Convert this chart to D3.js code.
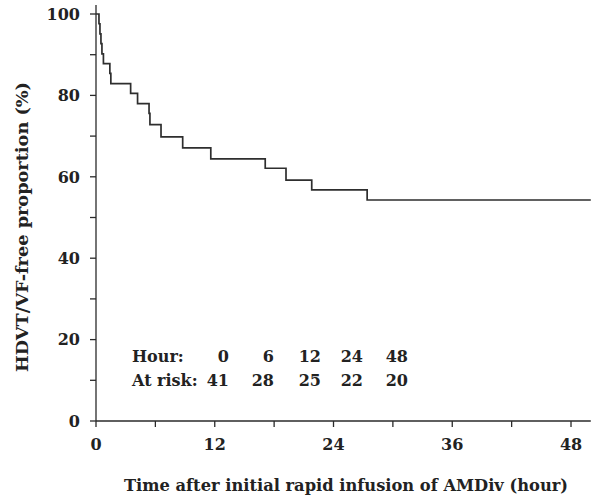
<!DOCTYPE html>
<html lang="en">
<head>
<meta charset="utf-8">
<title>HDVT/VF-free proportion</title>
<script src="https://cdn.jsdelivr.net/npm/d3@7/dist/d3.min.js"></script>
<style>
  body { margin: 0; background: #fff; }
  text { font-family: "DejaVu Serif", "Liberation Serif", serif; font-weight: bold; fill: #222; }
</style>
</head>
<body>
<script>
// -- Data -- //

// step times (hour) and HDVT/VF-free proportion (%) after each step
let stepTimes = [0, 0.3, 0.4, 0.5, 0.6, 0.75, 1.4, 1.5, 3.5, 4.2, 5.36, 5.45, 6.57, 8.76, 11.6, 17.1, 19.2, 21.8, 27.4];
let stepValues = [100, 97.6, 95.1, 92.7, 90.2, 87.8, 85.4, 82.9, 80.5, 78.0, 75.6, 72.8, 69.8, 67.1, 64.4, 62.1, 59.2, 56.8, 54.3];
let lastTime = 50;

let xTicks = [0, 12, 24, 36, 48];
let xMinor = [6, 18, 30, 42];
let yTicks = [0, 20, 40, 60, 80, 100];
let yMinor = [10, 30, 50, 70, 90];

let riskHours = ["0", "6", "12", "24", "48"];
let riskCounts = ["41", "28", "25", "22", "20"];

// -- Setting -- //

let canvasWidth = 604;
let canvasHeight = 496;

const canvas = d3.select("body")
    .append("svg")
    .attr("width", canvasWidth)
    .attr("height", canvasHeight);

let x = d3.scaleLinear().domain([0, 50]).range([96, 590.8]);
let y = d3.scaleLinear().domain([0, 100]).range([421, 14]);

const ink = "#2a2a2a";
const fs = 16;

// -- Axes -- //

let xAxis = canvas.append("g").attr("transform", `translate(0,${y(0)})`);
xAxis.append("line")
    .attr("x1", x(0)).attr("x2", x(lastTime))
    .attr("stroke", ink).attr("stroke-width", 1.3);
xAxis.selectAll("line.tick")
    .data(xTicks.concat(xMinor))
    .join("line")
    .attr("class", "tick")
    .attr("x1", d => x(d)).attr("x2", d => x(d))
    .attr("y1", 0).attr("y2", 6)
    .attr("stroke", ink).attr("stroke-width", 1.3);
xAxis.selectAll("text")
    .data(xTicks)
    .join("text")
    .attr("x", d => x(d))
    .attr("y", 29)
    .attr("text-anchor", "middle")
    .attr("font-size", fs)
    .text(d => d);

let yAxis = canvas.append("g").attr("transform", `translate(${x(0)},0)`);
yAxis.append("line")
    .attr("y1", y(0)).attr("y2", 5)
    .attr("stroke", ink).attr("stroke-width", 1.3);
yAxis.selectAll("line.tick")
    .data(yTicks.concat(yMinor))
    .join("line")
    .attr("class", "tick")
    .attr("y1", d => y(d)).attr("y2", d => y(d))
    .attr("x1", -6).attr("x2", 0)
    .attr("stroke", ink).attr("stroke-width", 1.3);
yAxis.selectAll("text")
    .data(yTicks)
    .join("text")
    .attr("x", -16)
    .attr("y", d => y(d))
    .attr("dy", "0.36em")
    .attr("text-anchor", "end")
    .attr("font-size", fs)
    .text(d => d);

// -- Curve -- //

let pts = stepTimes.map((t, i) => [t, stepValues[i]]);
pts.push([lastTime, stepValues[stepValues.length - 1]]);

let line = d3.line()
    .x(d => x(d[0]))
    .y(d => y(d[1]))
    .curve(d3.curveStepAfter);

canvas.append("path")
    .datum(pts)
    .attr("fill", "none")
    .attr("stroke", "#2e2e2e")
    .attr("stroke-width", 1.7)
    .attr("d", line);

// -- Labels -- //

canvas.append("text")
    .attr("x", 346)
    .attr("y", 491)
    .attr("text-anchor", "middle")
    .attr("font-size", 16)
    .attr("textLength", 444)
    .attr("lengthAdjust", "spacingAndGlyphs")
    .text("Time after initial rapid infusion of AMDiv (hour)");

canvas.append("text")
    .attr("transform", "translate(28,227) rotate(-90)")
    .attr("text-anchor", "middle")
    .attr("font-size", 17)
    .attr("textLength", 290)
    .attr("lengthAdjust", "spacingAndGlyphs")
    .text("HDVT/VF-free proportion (%)");

// -- At-risk table -- //

let colRight = [229, 274, 321, 363, 408];
let rowY = [362, 386];

canvas.append("text")
    .attr("x", 132).attr("y", rowY[0])
    .attr("font-size", fs)
    .text("Hour:");
canvas.append("text")
    .attr("x", 132).attr("y", rowY[1])
    .attr("font-size", fs)
    .text("At risk:");

canvas.selectAll("text.hour")
    .data(riskHours)
    .join("text")
    .attr("class", "hour")
    .attr("x", (d, i) => colRight[i])
    .attr("y", rowY[0])
    .attr("text-anchor", "end")
    .attr("font-size", fs)
    .text(d => d);

canvas.selectAll("text.risk")
    .data(riskCounts)
    .join("text")
    .attr("class", "risk")
    .attr("x", (d, i) => colRight[i])
    .attr("y", rowY[1])
    .attr("text-anchor", "end")
    .attr("font-size", fs)
    .text(d => d);
</script>
</body>
</html>
